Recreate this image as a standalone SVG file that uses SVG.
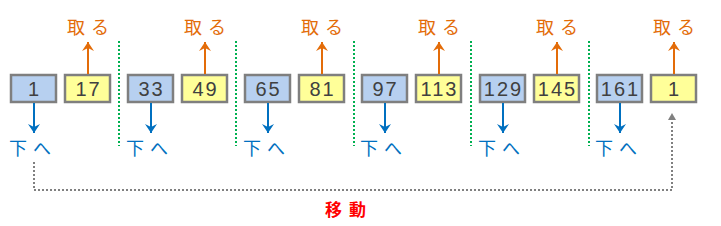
<svg xmlns="http://www.w3.org/2000/svg" width="721" height="226" viewBox="0 0 721 226">
<style>
.b{fill:#B7D0F0;stroke:#7F7F7F;stroke-width:2.5}
.y{fill:#FFFF99;stroke:#7F7F7F;stroke-width:2.5}
.n{font-family:"Liberation Sans",sans-serif;font-size:20px;fill:#404040;text-anchor:middle;letter-spacing:2px}
.dn{stroke:#0070C0;stroke-width:2;fill:none}
.up{stroke:#E36C09;stroke-width:2;fill:none}
.sep{stroke:#00B050;stroke-width:2;stroke-dasharray:2 2}
.mv{stroke:#808080;stroke-width:2;stroke-dasharray:2 2;fill:none}
.t1{font-family:"Noto Sans CJK JP",sans-serif;font-size:18px;fill:#E36C09;letter-spacing:6px}
.t2{font-family:"Noto Sans CJK JP",sans-serif;font-size:18px;fill:#0070C0;letter-spacing:6px}
.t3{font-family:"Noto Sans CJK JP",sans-serif;font-size:17px;font-weight:bold;fill:#FF0000;letter-spacing:7px}
</style>
<defs>
<marker id="ab" viewBox="0 0 12 12" refX="11" refY="6" markerWidth="12" markerHeight="12" markerUnits="userSpaceOnUse" orient="auto">
<path d="M2,0 L11,6 L2,12 L5,6 z" fill="#0070C0"/>
</marker>
<marker id="ao" viewBox="0 0 12 12" refX="11" refY="6" markerWidth="12" markerHeight="12" markerUnits="userSpaceOnUse" orient="auto">
<path d="M2,0 L11,6 L2,12 L5,6 z" fill="#E36C09"/>
</marker>
</defs>
<g id="n1"><rect class="b" x="11" y="75" width="45" height="27"/><text class="n" x="34.5" y="96">1</text></g>
<g id="n17"><rect class="y" x="65" y="75" width="45" height="27"/><text class="n" x="88.5" y="96">17</text></g>
<g id="n33"><rect class="b" x="128" y="75" width="45" height="27"/><text class="n" x="151.5" y="96">33</text></g>
<g id="n49"><rect class="y" x="182" y="75" width="45" height="27"/><text class="n" x="205.5" y="96">49</text></g>
<g id="n65"><rect class="b" x="245" y="75" width="45" height="27"/><text class="n" x="268.5" y="96">65</text></g>
<g id="n81"><rect class="y" x="299" y="75" width="45" height="27"/><text class="n" x="322.5" y="96">81</text></g>
<g id="n97"><rect class="b" x="362" y="75" width="45" height="27"/><text class="n" x="385.5" y="96">97</text></g>
<g id="n113"><rect class="y" x="416" y="75" width="45" height="27"/><text class="n" x="439.5" y="96">113</text></g>
<g id="n129"><rect class="b" x="480" y="75" width="45" height="27"/><text class="n" x="503.5" y="96">129</text></g>
<g id="n145"><rect class="y" x="534" y="75" width="45" height="27"/><text class="n" x="557.5" y="96">145</text></g>
<g id="n161"><rect class="b" x="597" y="75" width="45" height="27"/><text class="n" x="620.5" y="96">161</text></g>
<g id="nlast"><rect class="y" x="651" y="75" width="45" height="27"/><text class="n" x="674.5" y="96">1</text></g>
<g id="separators">
<line class="sep" x1="119" y1="41" x2="119" y2="146"/>
<line class="sep" x1="236" y1="41" x2="236" y2="146"/>
<line class="sep" x1="354" y1="41" x2="354" y2="146"/>
<line class="sep" x1="471" y1="41" x2="471" y2="146"/>
<line class="sep" x1="589" y1="41" x2="589" y2="146"/>
</g>
<g id="connectors">
<line class="dn" x1="34" y1="103" x2="34" y2="133" marker-end="url(#ab)"/>
<line class="dn" x1="151" y1="103" x2="151" y2="133" marker-end="url(#ab)"/>
<line class="dn" x1="268" y1="103" x2="268" y2="133" marker-end="url(#ab)"/>
<line class="dn" x1="385" y1="103" x2="385" y2="133" marker-end="url(#ab)"/>
<line class="dn" x1="503" y1="103" x2="503" y2="133" marker-end="url(#ab)"/>
<line class="dn" x1="620" y1="103" x2="620" y2="133" marker-end="url(#ab)"/>
<line class="up" x1="88" y1="74" x2="88" y2="42" marker-end="url(#ao)"/>
<line class="up" x1="205" y1="74" x2="205" y2="42" marker-end="url(#ao)"/>
<line class="up" x1="322" y1="74" x2="322" y2="42" marker-end="url(#ao)"/>
<line class="up" x1="439" y1="74" x2="439" y2="42" marker-end="url(#ao)"/>
<line class="up" x1="557" y1="74" x2="557" y2="42" marker-end="url(#ao)"/>
<line class="up" x1="674" y1="74" x2="674" y2="42" marker-end="url(#ao)"/>
<path class="mv" d="M34,162 V190 H672 V120"/>
<path d="M672,113 L676,120 L668,120 z" fill="#808080"/>
</g>
<g id="labels">
<text class="t1" x="67" y="34">取る</text>
<text class="t1" x="184" y="34">取る</text>
<text class="t1" x="301" y="34">取る</text>
<text class="t1" x="418" y="34">取る</text>
<text class="t1" x="536" y="34">取る</text>
<text class="t1" x="653" y="34">取る</text>
<text class="t2" x="9" y="155">下へ</text>
<text class="t2" x="126" y="155">下へ</text>
<text class="t2" x="243" y="155">下へ</text>
<text class="t2" x="360" y="155">下へ</text>
<text class="t2" x="478" y="155">下へ</text>
<text class="t2" x="595" y="155">下へ</text>
<text class="t3" x="325" y="216">移動</text>
</g>
</svg>
